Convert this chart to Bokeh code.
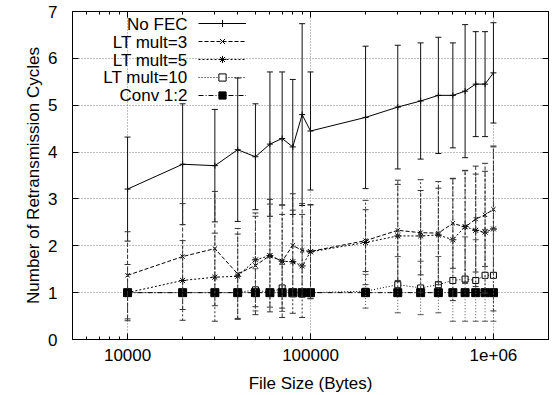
from bokeh.plotting import figure
from bokeh.models import (ColumnDataSource, Whisker, TeeHead, FixedTicker, LogAxis,
                          LinearAxis, Label, Legend, LegendItem, Range1d)
from bokeh.embed import file_html
from bokeh.resources import INLINE

# ---------------- data ----------------
file_sizes = [10000, 20000, 30000, 40000, 50000, 60000, 70000, 80000, 90000, 100000,
              200000, 300000, 400000, 500000, 600000, 700000, 800000, 900000, 1000000]

no_fec_mean = [3.21, 3.74, 3.71, 4.05, 3.90, 4.17, 4.29, 4.11, 4.80, 4.45,
               4.74, 4.96, 5.09, 5.21, 5.21, 5.30, 5.45, 5.45, 5.69]
no_fec_err = [1.11, 1.29, 1.20, 1.53, 1.13, 1.54, 1.42, 1.44, 1.94, 1.26,
              1.52, 1.32, 1.24, 1.24, 1.12, 1.42, 1.12, 1.12, 1.07]

lt3_mean = [1.37, 1.77, 1.94, 1.40, 1.58, 1.79, 1.67, 2.01, 1.90, 1.88,
            2.11, 2.33, 2.28, 2.27, 2.48, 2.40, 2.57, 2.66, 2.78]
lt3_err = [0.93, 1.13, 1.22, 0.97, 1.05, 1.20, 1.20, 1.10, 1.00, 1.00,
           0.66, 1.07, 0.90, 1.10, 0.96, 1.20, 1.13, 1.10, 1.35]

lt5_mean = [1.00, 1.26, 1.33, 1.35, 1.70, 1.79, 1.67, 1.66, 1.57, 1.87,
            2.07, 2.21, 2.21, 2.23, 2.13, 2.41, 2.33, 2.29, 2.36]
lt5_err = [0.60, 0.85, 0.94, 0.90, 1.00, 1.10, 1.00, 1.10, 1.10, 1.00,
           0.90, 1.10, 1.20, 1.00, 1.30, 1.20, 1.20, 1.30, 1.75]

lt10_mean = [1.00, 1.00, 1.00, 1.00, 1.06, 1.00, 1.10, 1.00, 1.00, 1.00,
             1.03, 1.17, 1.10, 1.17, 1.26, 1.29, 1.26, 1.37, 1.37]
lt10_err = [0.00, 0.00, 0.00, 0.00, 0.45, 0.00, 0.50, 0.00, 0.00, 0.00,
            0.36, 0.60, 0.57, 0.60, 0.87, 0.90, 0.87, 0.98, 0.98]

conv_mean = [1.0] * 19
conv_err = [0.0] * 19

series_names = ["No FEC", "LT mult=3", "LT mult=5", "LT mult=10", "Conv 1:2"]

x_tick_values = [10000, 100000, 1000000]
x_tick_labels = ["10000", "100000", "1e+06"]
y_tick_values = [0, 1, 2, 3, 4, 5, 6, 7]

X_MIN, X_MAX = 5000, 2000000
Y_MIN, Y_MAX = 0, 7

FONT = "Liberation Sans"
FS = "17px"

# ---------------- figure ----------------
p = figure(width=557, height=395, x_axis_type="log",
           x_range=Range1d(X_MIN, X_MAX), y_range=Range1d(Y_MIN, Y_MAX),
           output_backend="svg", toolbar_location=None,
           min_border_left=72, min_border_right=9, min_border_top=11, min_border_bottom=55)
p.background_fill_color = "white"
p.border_fill_color = "white"
p.outline_line_color = "black"
p.outline_line_width = 1

minor_x = [m * 10 ** e for e in range(3, 7) for m in range(2, 10) if X_MIN <= m * 10 ** e <= X_MAX]
xticker = FixedTicker(ticks=x_tick_values, minor_ticks=minor_x)
yticker = FixedTicker(ticks=y_tick_values)

xa = p.xaxis[0]
xa.ticker = xticker
xa.major_label_overrides = {v: l for v, l in zip(x_tick_values, x_tick_labels)}
xa.axis_label = "File Size (Bytes)"
ya = p.yaxis[0]
ya.ticker = yticker
ya.axis_label = "Number of Retransmission Cycles"

for ax in (xa, ya):
    ax.axis_label_text_font = FONT
    ax.axis_label_text_font_size = FS
    ax.axis_label_text_font_style = "normal"
    ax.axis_label_text_color = "black"
    ax.major_label_text_font = FONT
    ax.major_label_text_font_size = FS
    ax.major_label_text_color = "black"
    ax.axis_line_color = "black"
    ax.major_tick_in = 6
    ax.major_tick_out = 0
    ax.minor_tick_in = 3
    ax.minor_tick_out = 0
    ax.major_tick_line_color = "black"
    ax.minor_tick_line_color = "black"
ya.minor_tick_line_color = None
xa.major_label_standoff = 9
xa.axis_label_standoff = 10
ya.major_label_standoff = 15
ya.axis_label_standoff = 2

# mirrored ticks (top / right), labels invisible
top = LogAxis(ticker=xticker, major_label_text_font_size="1px", major_label_text_alpha=0,
              major_label_standoff=0,
              major_tick_in=6, major_tick_out=0, minor_tick_in=3, minor_tick_out=0,
              axis_line_color="black", major_tick_line_color="black", minor_tick_line_color="black")
right = LinearAxis(ticker=yticker, major_label_text_font_size="1px", major_label_text_alpha=0,
                   major_label_standoff=0,
                   major_tick_in=6, major_tick_out=0, minor_tick_line_color=None,
                   axis_line_color="black", major_tick_line_color="black")
p.add_layout(top, "above")
p.add_layout(right, "right")

p.xgrid.ticker = xticker
p.ygrid.ticker = yticker
for g in (p.xgrid[0], p.ygrid[0]):
    g.grid_line_color = "#808080"
    g.grid_line_dash = "1 2"
    g.grid_line_width = 1

styles = [
    dict(dash="solid", marker="cross", size=6, fill=None, lcol="#111111"),
    dict(dash="4 2", marker="x", size=6, fill=None, lcol="#333333"),
    dict(dash="2 2", marker="asterisk", size=7, fill=None, lcol="#333333"),
    dict(dash="1 2", marker="square", size=6, fill="white", lcol="#555555"),
    dict(dash="5 2 1 2", marker="square", size=8, fill="black", lcol="#111111"),
]
means = [no_fec_mean, lt3_mean, lt5_mean, lt10_mean, conv_mean]
errs = [no_fec_err, lt3_err, lt5_err, lt10_err, conv_err]

items = []
for name, m, e, st in zip(series_names, means, errs, styles):
    src = ColumnDataSource(dict(x=file_sizes, y=m))
    wx = [xv for xv, ev in zip(file_sizes, e) if ev > 0]
    if wx:
        wsrc = ColumnDataSource(dict(
            x=wx,
            lo=[a - b for a, b in zip(m, e) if b > 0],
            hi=[a + b for a, b in zip(m, e) if b > 0]))
        w = Whisker(base="x", lower="lo", upper="hi", source=wsrc,
                    line_color=st["lcol"], line_width=1, line_dash=st["dash"],
                    upper_head=TeeHead(size=6, line_color=st["lcol"], line_width=1),
                    lower_head=TeeHead(size=6, line_color=st["lcol"], line_width=1),
                    level="glyph")
        p.add_layout(w)
    lr = p.line("x", "y", source=src, line_color="black", line_width=1, line_dash=st["dash"])
    sr = p.scatter("x", "y", source=src, marker=st["marker"], size=st["size"],
                   line_color="black", line_width=1,
                   fill_color=st["fill"] if st["fill"] else None)
    items.append(LegendItem(label=" ", renderers=[lr, sr]))

legend = Legend(items=items, location=(126, 235), orientation="vertical",
                glyph_width=48, glyph_height=18, spacing=0, padding=0, margin=0,
                label_width=1, label_height=10, label_standoff=0,
                label_text_font_size="8px",
                border_line_color=None, background_fill_alpha=0)
p.add_layout(legend, "center")

for i, name in enumerate(series_names):
    p.add_layout(Label(x=115, y=315 - 17.8 * i, x_units="screen", y_units="screen",
                       text=name, text_align="right", text_baseline="middle",
                       text_font=FONT, text_font_size=FS, text_color="black"))

open("out.html", "w").write(file_html(p, INLINE))
